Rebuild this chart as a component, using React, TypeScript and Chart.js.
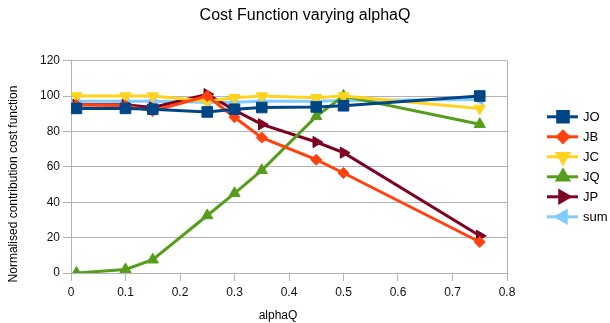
import React, { useEffect, useRef } from "react";
import { Chart, registerables } from "chart.js";
import { drawPoint } from "chart.js/helpers";

Chart.register(...registerables);

const alphaQ = [0.01, 0.1, 0.15, 0.25, 0.3, 0.35, 0.45, 0.5, 0.75];
const JO = [93, 93, 92.5, 91, 92.5, 93.5, 93.8, 94.5, 100];
const JB = [95, 94.5, 91.5, 100, 88, 76.5, 64, 56.5, 17.5];
const JC = [100, 100, 100, 97, 99, 100, 99, 100, 93];
const JQ = [0, 2, 7.5, 32.5, 45, 58, 88.5, 100, 84];
const JP = [95, 95, 93.5, 101, 92, 84, 74, 68, 21];
const SUM = [97, 97, 97, 96.5, 96.5, 97, 97, 97.5, 98];

const xTicks = [0, 0.1, 0.2, 0.3, 0.4, 0.5, 0.6, 0.7, 0.8];
const yTicks = [0, 20, 40, 60, 80, 100, 120];

const TITLE = "Cost Function varying alphaQ";
const X_TITLE = "alphaQ";
const Y_TITLE = "Normalised contribution cost function";

const FONT = "'Liberation Sans', Arial, sans-serif";
const GRID = "#b3b3b3";

type S = { label: string; data: number[]; color: string; style: string; rot: number; r: number };

const series: S[] = [
  { label: "JO", data: JO, color: "#004586", style: "rect", rot: 0, r: 7.5 },
  { label: "JB", data: JB, color: "#ff420e", style: "rectRot", rot: 0, r: 5.5 },
  { label: "JC", data: JC, color: "#ffd320", style: "triangle", rot: 180, r: 6.5 },
  { label: "JQ", data: JQ, color: "#579d1c", style: "triangle", rot: 0, r: 6.5 },
  { label: "JP", data: JP, color: "#7e0021", style: "triangle", rot: 90, r: 6.5 },
  { label: "sum", data: SUM, color: "#83caff", style: "triangle", rot: 270, r: 6.5 },
];

const textPlugin = {
  id: "texts",
  afterDraw(chart: any) {
    const ctx = chart.ctx as CanvasRenderingContext2D;
    const area = chart.chartArea;
    ctx.save();
    ctx.fillStyle = "#000";
    ctx.textAlign = "center";
    ctx.textBaseline = "middle";
    ctx.font = `16px ${FONT}`;
    ctx.fillText(TITLE, 305, 16);
    ctx.font = `12px ${FONT}`;
    ctx.fillText(X_TITLE, 278, 316);
    ctx.save();
    ctx.translate(14, 184);
    ctx.rotate(-Math.PI / 2);
    ctx.fillText(Y_TITLE, 0, 0);
    ctx.restore();

    // legend
    const startY = (area.top + area.bottom) / 2 - 50;
    series.forEach((s, i) => {
      const y = startY + i * 20;
      ctx.strokeStyle = s.color;
      ctx.lineWidth = 3;
      ctx.beginPath();
      ctx.moveTo(547, y);
      ctx.lineTo(578, y);
      ctx.stroke();
      ctx.fillStyle = s.color;
      drawPoint(ctx, { pointStyle: s.style, radius: s.r, rotation: s.rot, borderWidth: 1 } as any, 563, y);
      ctx.fillStyle = "#000";
      ctx.textAlign = "left";
      ctx.font = `13px ${FONT}`;
      ctx.fillText(s.label, 583, y + 1);
    });
    ctx.restore();
  },
};

export default function App() {
  const ref = useRef<HTMLCanvasElement>(null);
  useEffect(() => {
    if (!ref.current) return;
    const chart = new Chart(ref.current, {
      type: "line",
      data: {
        datasets: series.map((s) => ({
          label: s.label,
          data: alphaQ.map((x, i) => ({ x, y: s.data[i] })),
          borderColor: s.color,
          backgroundColor: s.color,
          pointBackgroundColor: s.color,
          pointBorderColor: s.color,
          borderWidth: 3,
          pointStyle: s.style as any,
          pointRotation: s.rot,
          pointRadius: s.r,
          pointBorderWidth: 1,
          tension: 0,
          fill: false,
        })),
      },
      options: {
        responsive: false,
        animation: false,
        devicePixelRatio: 1,
        layout: { padding: { top: 60.6, right: 103, left: 0, bottom: 0 } },
        plugins: { legend: { display: false }, title: { display: false }, tooltip: { enabled: false } },
        scales: {
          x: {
            type: "linear",
            min: 0,
            max: 0.8,
            afterFit: (s: any) => { s.height = 50; },
            afterBuildTicks: (s: any) => { s.ticks = xTicks.map((v) => ({ value: v })); },
            ticks: {
              color: "#111",
              font: { family: FONT, size: 12 },
              padding: 4,
              maxRotation: 0,
              callback: (v: any) => String(v),
            },
            grid: {
              color: (c: any) => (c.tick && c.tick.value === 0.8 ? GRID : "rgba(0,0,0,0)"),
              tickColor: GRID,
              tickLength: 8,
              lineWidth: 1,
            },
            border: { color: GRID, width: 1 },
          },
          y: {
            min: 0,
            max: 120,
            afterFit: (s: any) => { s.width = 71; },
            afterBuildTicks: (s: any) => { s.ticks = yTicks.map((v) => ({ value: v })); },
            ticks: { color: "#111", font: { family: FONT, size: 12 }, padding: 3 },
            grid: { color: GRID, tickColor: GRID, tickLength: 8, lineWidth: 1 },
            border: { color: GRID, width: 1 },
          },
        },
      },
      plugins: [textPlugin],
    });
    return () => chart.destroy();
  }, []);
  return (
    <div style={{ position: "fixed", left: 0, top: 0, width: 610, height: 323, background: "#fff" }}>
      <canvas ref={ref} width={610} height={323} style={{ width: 610, height: 323 }} />
    </div>
  );
}
